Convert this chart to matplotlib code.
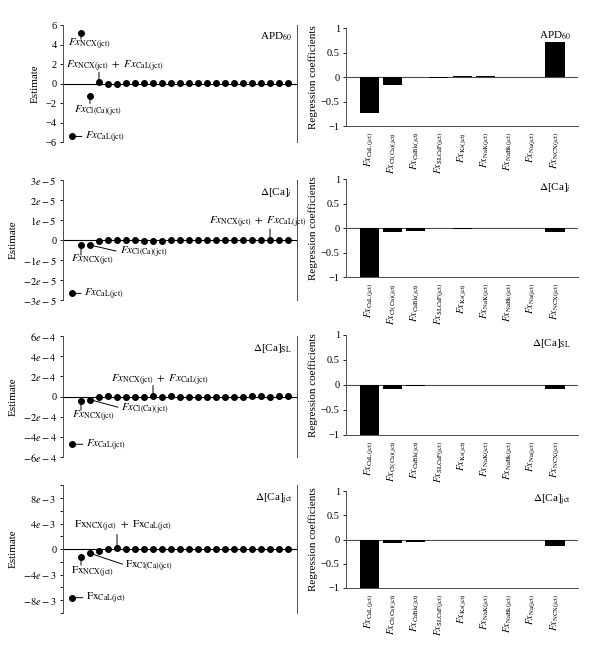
import matplotlib.pyplot as plt
import numpy as np

plt.rcParams['font.family'] = 'Liberation Serif'
plt.rcParams['mathtext.fontset'] = 'stix'
plt.rcParams['font.size'] = 7

# estimates (25 parameters, ordered as in the plot)
x_est = np.arange(1, 26)
apd_est = [-5.43, 5.23, -1.29, 0.14, -0.07, -0.03, 0.05, 0.05, 0.05, 0.05, 0.05, 0.04,
           0.04, 0.04, 0.04, 0.04, 0.04, 0.04, 0.04, 0.04, 0.04, 0.04, 0.04, 0.04, 0.04]
cai_est = [-2.67e-5, -0.25e-5, -0.25e-5, -0.07e-5, -0.02e-5, 0.0, 0.02e-5, -0.02e-5,
           -0.03e-5, -0.03e-5, -0.03e-5, -0.02e-5, -0.02e-5, -0.02e-5, 0.0, -0.01e-5,
           -0.01e-5, -0.01e-5, -0.01e-5, 0.0, -0.01e-5, 0.0, 0.0, 0.0, 0.0]
casl_est = [-4.72e-4, -0.40e-4, -0.30e-4, -0.07e-4, 0.07e-4, 0.0, 0.0, 0.0, 0.0, 0.07e-4,
            0.0, 0.03e-4, 0.0, 0.0, 0.0, 0.0, -0.03e-4, -0.07e-4, 0.0, -0.03e-4,
            0.07e-4, 0.03e-4, -0.03e-4, 0.07e-4, 0.03e-4]
cajct_est = [-7.6e-3, -1.17e-3, -0.64e-3, -0.27e-3, 0.10e-3, 0.20e-3, 0.0, 0.0, 0.0,
             0.10e-3, 0.0, 0.0, 0.05e-3, 0.05e-3, 0.05e-3, 0.0, 0.0, 0.0, -0.05e-3,
             0.0, -0.05e-3, 0.05e-3, 0.05e-3, 0.0, 0.0]

# regression coefficients
bar_names = ['CaL(jct)', 'Cl(Ca)(jct)', 'CaBk(jct)', 'SLCaP(jct)', 'Ks(jct)',
             'NaK(jct)', 'NaBk(jct)', 'Na(jct)', 'NCX(jct)']
apd_coef = [-0.74, -0.17, 0.0, -0.03, 0.02, 0.02, 0.0, 0.0, 0.72]
cai_coef = [-1.0, -0.09, -0.05, 0.0, -0.02, 0.0, 0.0, 0.0, -0.09]
casl_coef = [-1.0, -0.09, -0.03, 0.0, 0.0, 0.0, 0.0, 0.0, -0.09]
cajct_coef = [-1.0, -0.07, -0.06, 0.0, 0.0, 0.0, 0.0, 0.0, -0.13]

titles = [r'APD$_{60}$', r'$\Delta$[Ca]$_i$', r'$\Delta$[Ca]$_{\rm SL}$', r'$\Delta$[Ca]$_{\rm jct}$']
estimates = [apd_est, cai_est, casl_est, cajct_est]
coefs = [apd_coef, cai_coef, casl_coef, cajct_coef]

ylims = [(-6, 6), (-3e-5, 3e-5), (-6e-4, 6e-4), (-0.01, 0.01)]
yticks = [[-6, -4, -2, 0, 2, 4, 6],
          [-3e-5, -2e-5, -1e-5, 0, 1e-5, 2e-5, 3e-5],
          [-6e-4, -4e-4, -2e-4, 0, 2e-4, 4e-4, 6e-4],
          [-8e-3, -4e-3, 0, 4e-3, 8e-3]]
yticklabels = [['\u22126', '\u22124', '\u22122', '0', '2', '4', '6'],
               ['$-3e-5$', '$-2e-5$', '$-1e-5$', '0', '$1e-5$', '$2e-5$', '$3e-5$'],
               ['$-6e-4$', '$-4e-4$', '$-2e-4$', '0', '$2e-4$', '$4e-4$', '$6e-4$'],
               ['$-8e-3$', '$-4e-3$', '0', '$4e-3$', '$8e-3$']]


def lab(name, upright=False):
    if upright:
        return r'$\mathrm{Fx}_{\mathrm{%s}}$' % name
    return r'$Fx_{\mathrm{%s}}$' % name


def plus(upright=False):
    f = r'\mathrm{Fx}' if upright else 'Fx'
    return r'$%s_{\mathrm{NCX(jct)}}\ +\ %s_{\mathrm{CaL(jct)}}$' % (f, f)


# (point index, line end, text pos, text, ha)
notes = [
    [(2, (2, 4.55), (0.6, 4.0), lab('NCX(jct)'), 'left'),
     (4, (4, 1.15), (0.3, 1.8), plus(), 'left'),
     (3, (3, -2.05), (1.2, -2.9), lab('Cl(Ca)(jct)'), 'left'),
     (1, (2.1, -5.43), (2.4, -5.5), lab('CaL(jct)'), 'left')],
    [(2, (2, -0.75e-5), (0.9, -1.0e-5), lab('NCX(jct)'), 'left'),
     (3, (5.9, -0.55e-5), (6.3, -0.6e-5), lab('Cl(Ca)(jct)'), 'left'),
     (1, (2.0, -2.67e-5), (2.3, -2.72e-5), lab('CaL(jct)'), 'left'),
     (23, (23, 0.55e-5), (16.2, 0.87e-5), plus(), 'left')],
    [(2, (2, -1.35e-4), (1.0, -2.0e-4), lab('NCX(jct)'), 'left'),
     (3, (6.1, -1.05e-4), (6.4, -1.3e-4), lab('Cl(Ca)(jct)'), 'left'),
     (1, (2.2, -4.72e-4), (2.5, -4.8e-4), lab('CaL(jct)'), 'left'),
     (10, (10, 1.1e-4), (5.3, 1.6e-4), plus(), 'left')],
    [(2, (2, -2.5e-3), (0.85, -3.6e-3), lab('NCX(jct)', True), 'left'),
     (3, (6.6, -2.35e-3), (6.9, -2.7e-3), lab('Cl(Ca)(jct)', True), 'left'),
     (1, (2.2, -7.6e-3), (2.5, -7.7e-3), lab('CaL(jct)', True), 'left'),
     (6, (6, 2.3e-3), (1.2, 3.6e-3), plus(True), 'left')],
]

left_pos = [(0.105, 0.7832, 0.39, 0.1786), (0.105, 0.542, 0.39, 0.183),
            (0.105, 0.302, 0.39, 0.185), (0.105, 0.0641, 0.39, 0.195)]
right_pos = [(0.5767, 0.8076, 0.387, 0.1496), (0.5767, 0.577, 0.387, 0.1496),
             (0.5767, 0.336, 0.387, 0.153), (0.5767, 0.1023, 0.387, 0.148)]

fig = plt.figure(figsize=(6, 6.55), dpi=100)

for i in range(4):
    ax = fig.add_axes(left_pos[i])
    ax.axhline(0, color='k', lw=0.8, zorder=1)
    ax.plot(x_est, estimates[i], 'o', color='k', ms=4, zorder=3)
    ax.set_xlim(0, 26)
    ax.set_ylim(ylims[i])
    ax.set_xticks([])
    ax.set_yticks(yticks[i])
    ax.set_yticklabels(yticklabels[i])
    if i == 3:
        ax.set_yticks([-0.01, -6e-3, -2e-3, 2e-3, 6e-3, 0.01], minor=True)
    ax.tick_params(axis='y', which='both', length=2.5, width=0.6, labelsize=7.5, pad=2)
    for s in ['top', 'bottom']:
        ax.spines[s].set_visible(False)
    for s in ['left', 'right']:
        ax.spines[s].set_linewidth(0.7)
        ax.spines[s].set_color('0.3')
    ax.set_ylabel('Estimate', fontsize=8)
    ax.text(0.98, 0.95, titles[i], transform=ax.transAxes, ha='right', va='top', fontsize=8)
    for idx, end, tpos, txt, ha in notes[i]:
        ax.annotate('', xy=(x_est[idx - 1], estimates[i][idx - 1]), xytext=end,
                    arrowprops=dict(arrowstyle='-', lw=0.7, color='k', shrinkA=0, shrinkB=0))
        ax.text(tpos[0], tpos[1], txt, ha=ha, va='center', fontsize=8)

    bx = fig.add_axes(right_pos[i])
    xb = np.arange(1, len(bar_names) + 1)
    bx.axhline(0, color='0.3', lw=0.8, zorder=1)
    bx.bar(xb, coefs[i], width=0.82, color='k', zorder=2)
    bx.set_xlim(0, 10)
    bx.set_ylim(-1, 1)
    bx.set_yticks([-1, -0.5, 0, 0.5, 1])
    bx.set_yticklabels(['\u22121', '\u22120.5', '0', '0.5', '1'])
    bx.set_xticks(xb)
    bx.set_xticklabels([lab(n) for n in bar_names], rotation=90, fontsize=7)
    bx.tick_params(axis='x', length=0, pad=4)
    bx.tick_params(axis='y', length=2.5, width=0.6, labelsize=7.5, pad=2)
    for s in ['top', 'right']:
        bx.spines[s].set_visible(False)
    for s in ['left', 'bottom']:
        bx.spines[s].set_linewidth(0.7)
        bx.spines[s].set_color('0.3')
    bx.set_ylabel('Regression coefficients', fontsize=8, labelpad=2)
    bx.text(0.97, 0.98, titles[i], transform=bx.transAxes, ha='right', va='top', fontsize=8)

plt.savefig('out.png', dpi=100)
